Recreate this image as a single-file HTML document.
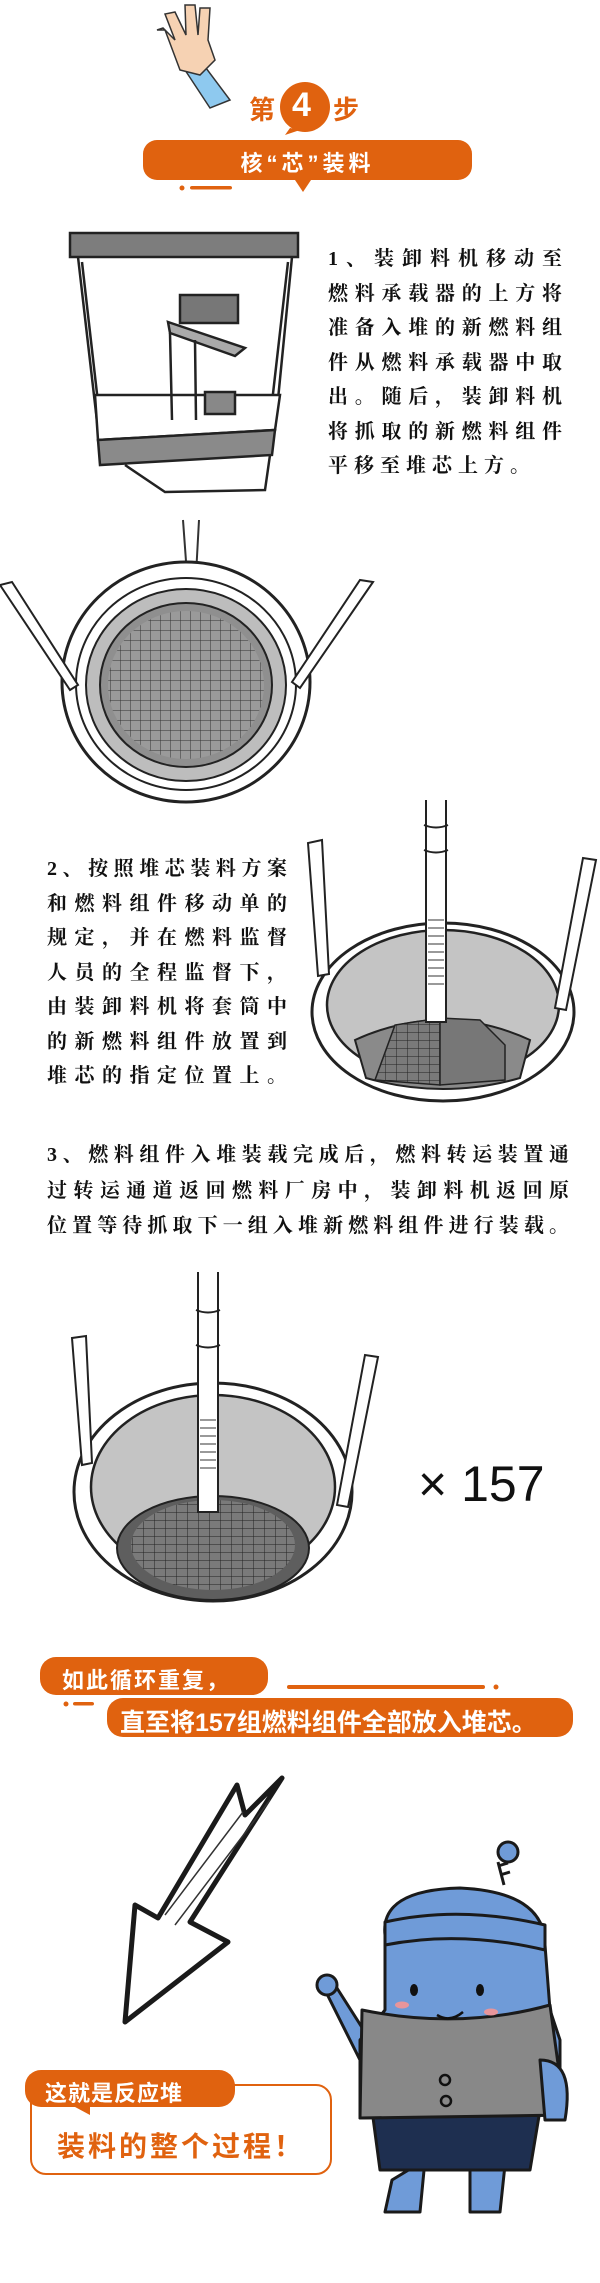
<!DOCTYPE html>
<html><head><meta charset="utf-8"><style>
html,body{margin:0;padding:0;background:#fff;}
#p{position:relative;width:600px;height:2283px;overflow:hidden;font-family:"Liberation Sans","Noto Sans CJK SC",sans-serif;}
svg{position:absolute;left:0;top:0;}
.t{position:absolute;color:#111;font-size:20px;font-weight:bold;font-family:"Liberation Serif","Noto Serif CJK SC",serif;}
.t div{text-align:justify;text-align-last:justify;white-space:nowrap;}
.w{position:absolute;color:#fff;font-weight:bold;white-space:nowrap;}
</style></head><body><div id="p">
<svg width="600" height="2283" viewBox="0 0 600 2283">
<defs>
<pattern id="g1" width="10" height="10" patternUnits="userSpaceOnUse"><rect width="10" height="10" fill="#9a9a9a"/><path d="M0 0H10M0 0V10" stroke="#333" stroke-width="1"/></pattern>
<pattern id="g2" width="11" height="8" patternUnits="userSpaceOnUse"><rect width="11" height="8" fill="#7a7a7a"/><path d="M0 0H11M0 0V8" stroke="#222" stroke-width="1"/></pattern>
<clipPath id="c1"><ellipse cx="186" cy="685" rx="78" ry="74"/></clipPath>
<clipPath id="c3"><ellipse cx="213" cy="1545" rx="82" ry="45"/></clipPath>
</defs>
<!-- hand -->
<path d="M185 70 L210 108 L230 100 L200 60 Z" fill="#8ec9ef" stroke="#333" stroke-width="1.5"/>
<path d="M165 30 L180 70 L200 75 L215 60 L208 40 L210 8 L200 8 L198 35 L195 5 L185 5 L186 35 L175 12 L165 14 L175 40 L163 28 L157 30 Z" fill="#f6d2b3" stroke="#333" stroke-width="1.5"/>
<circle cx="305" cy="107" r="25" fill="#e0620f"/>
<path d="M290 128 L285 135 L300 130Z" fill="#e0620f"/>
<rect x="143" y="140" width="329" height="40" rx="14" fill="#e0620f"/>
<path d="M295 180 L303 192 L311 180Z" fill="#e0620f"/>
<circle cx="182" cy="188" r="2.5" fill="#e0620f"/><rect x="190" y="186" width="42" height="3.5" rx="2" fill="#e0620f"/>
<!-- machine -->
<g stroke="#222" stroke-width="2.5" fill="none">
<rect x="70" y="233" width="228" height="24" fill="#7d7d7d"/>
<path d="M78 257 L98 430 M292 257 L275 430 M82 262 L100 420 M288 262 L270 420"/>
<path d="M95 395 L280 395 L275 430 L98 440 Z" fill="#fff"/>
<path d="M98 440 L275 430 L272 455 L100 465 Z" fill="#8a8a8a"/>
<path d="M125 465 L165 492 L265 490 L270 455"/>
<rect x="180" y="295" width="58" height="28" fill="#777"/>
<path d="M168 322 L245 348 L235 356 L170 333 Z" fill="#aaa"/>
<path d="M170 333 L172 420 M195 340 L196 420"/>
<rect x="205" y="392" width="30" height="22" fill="#888"/>
</g>
<!-- vessel 1 -->
<path d="M183 520 L187 575 L196 575 L199 520" fill="#fff" stroke="#333" stroke-width="2"/>
<ellipse cx="186" cy="682" rx="124" ry="120" fill="#fff" stroke="#222" stroke-width="3"/>
<ellipse cx="186" cy="684" rx="110" ry="106" fill="#fff" stroke="#222" stroke-width="2"/>
<ellipse cx="186" cy="685" rx="100" ry="96" fill="#bdbdbd" stroke="#222" stroke-width="2"/>
<ellipse cx="186" cy="685" rx="86" ry="82" fill="#8f8f8f" stroke="#222" stroke-width="2"/>
<rect x="100" y="605" width="175" height="160" fill="url(#g1)" clip-path="url(#c1)"/>
<path d="M0 585 L70 690 L78 685 L12 582Z" fill="#fff" stroke="#222" stroke-width="2"/>
<path d="M373 582 L300 688 L292 682 L360 580Z" fill="#fff" stroke="#222" stroke-width="2"/>
<!-- vessel 2 -->
<ellipse cx="443" cy="1012" rx="131" ry="89" fill="#fff" stroke="#222" stroke-width="3"/>
<ellipse cx="443" cy="1005" rx="116" ry="75" fill="#c4c4c4" stroke="#222" stroke-width="2.5"/>
<path d="M355 1040 Q443 1000 530 1040 L520 1078 Q443 1100 366 1078Z" fill="#8a8a8a" stroke="#222" stroke-width="2"/>
<path d="M375 1080 L395 1025 L440 1018 L440 1085Z" fill="url(#g2)" stroke="#222" stroke-width="1.5"/>
<path d="M440 1018 L480 1020 L505 1045 L505 1080 L440 1085Z" fill="#777" stroke="#222" stroke-width="1.5"/>
<path d="M426 800 L426 1022 L446 1022 L446 800" fill="#fff" stroke="#222" stroke-width="2"/>
<path d="M428 920 H444 M428 928 H444 M428 936 H444 M428 944 H444 M428 952 H444 M428 960 H444 M428 968 H444 M428 976 H444 M428 984 H444" stroke="#333"/>
<path d="M424 825 Q436 830 448 825 M424 850 Q436 855 448 850" stroke="#222" stroke-width="2" fill="none"/>
<path d="M308 843 L318 976 L329 974 L322 840Z" fill="#fff" stroke="#222" stroke-width="2"/>
<path d="M583 858 L555 1008 L566 1010 L596 860Z" fill="#fff" stroke="#222" stroke-width="2"/>
<!-- vessel 3 -->
<ellipse cx="213" cy="1492" rx="139" ry="109" fill="#fff" stroke="#222" stroke-width="3"/>
<ellipse cx="213" cy="1487" rx="122" ry="92" fill="#c4c4c4" stroke="#222" stroke-width="2.5"/>
<ellipse cx="213" cy="1548" rx="96" ry="52" fill="#5e5e5e" stroke="#222" stroke-width="2"/>
<rect x="125" y="1500" width="180" height="100" fill="url(#g2)" clip-path="url(#c3)"/>
<path d="M198 1272 L198 1512 L218 1512 L218 1272" fill="#fff" stroke="#222" stroke-width="2"/>
<path d="M200 1420 H216 M200 1428 H216 M200 1436 H216 M200 1444 H216 M200 1452 H216 M200 1460 H216 M200 1468 H216" stroke="#333"/>
<path d="M196 1310 Q208 1315 220 1310 M196 1345 Q208 1350 220 1345" stroke="#222" stroke-width="2" fill="none"/>
<path d="M72 1338 L82 1465 L92 1463 L86 1336Z" fill="#fff" stroke="#222" stroke-width="2"/>
<path d="M365 1355 L337 1505 L348 1507 L378 1357Z" fill="#fff" stroke="#222" stroke-width="2"/>
<!-- orange pills -->
<rect x="40" y="1657" width="228" height="38" rx="16" fill="#e0620f"/>
<rect x="287" y="1685" width="198" height="4" rx="2" fill="#e0620f"/><circle cx="496" cy="1687" r="2.5" fill="#e0620f"/>
<rect x="107" y="1698" width="466" height="39" rx="16" fill="#e0620f"/>
<circle cx="66" cy="1704" r="2.5" fill="#e0620f"/><rect x="73" y="1702" width="21" height="3.5" rx="2" fill="#e0620f"/>
<!-- arrow -->
<path d="M237 1785 L245 1815 L282 1778 L190 1922 L228 1942 L125 2022 L135 1905 L158 1918 Z" fill="none" stroke="#1a1a1a" stroke-width="5" stroke-linejoin="round"/>
<path d="M270 1800 L175 1925 M243 1812 L165 1915" stroke="#333" stroke-width="1.5"/>
<!-- bubble -->
<rect x="31" y="2085" width="300" height="89" rx="15" fill="#fff" stroke="#e0620f" stroke-width="2"/>
<rect x="25" y="2070" width="210" height="37" rx="16" fill="#e0620f"/>
<path d="M62 2100 L90 2100 L90 2115Z" fill="#e0620f"/>
<!-- robot -->
<g stroke="#1a1a1a" stroke-width="3" stroke-linejoin="round">
<path d="M335 1985 L370 2040 L360 2060 L325 1990Z" fill="#6f9bd8"/>
<circle cx="327" cy="1985" r="10" fill="#6f9bd8"/>
<path d="M392 2180 L385 2212 L420 2212 L425 2160Z M470 2165 L470 2212 L500 2212 L505 2165Z" fill="#6f9bd8"/>
<path d="M372 2110 L380 2170 L530 2170 L540 2110Z" fill="#1e2f50"/>
<path d="M385 1935 Q380 1890 460 1888 Q545 1892 545 1945 L550 2010 L560 2040 L560 2115 L360 2118 L360 2040 L385 2010 Z" fill="#6f9bd8"/>
<path d="M362 2010 Q460 2030 550 2005 L565 2115 L360 2118 Z" fill="#888"/>
<path d="M385 1945 Q460 1930 545 1950 L545 1925 Q460 1905 385 1922Z" fill="#6f9bd8"/>
<path d="M540 2060 Q575 2060 565 2120 L545 2120Z" fill="#6f9bd8"/>
</g>
<path d="M504 1885 L498 1862 M500 1875 l10 -3 M498 1866 l10 -3" stroke="#1a1a1a" stroke-width="3"/>
<circle cx="508" cy="1852" r="10" fill="#6f9bd8" stroke="#1a1a1a" stroke-width="3"/>
<ellipse cx="414" cy="1990" rx="4" ry="6" fill="#111"/><ellipse cx="480" cy="1990" rx="4" ry="6" fill="#111"/>
<path d="M437 2015 Q450 2023 463 2012" stroke="#111" stroke-width="2.5" fill="none"/>
<ellipse cx="402" cy="2005" rx="7" ry="3.5" fill="#e7959b"/><ellipse cx="491" cy="2012" rx="7" ry="3.5" fill="#e7959b"/>
<circle cx="445" cy="2080" r="5" fill="none" stroke="#111" stroke-width="2.5"/><circle cx="446" cy="2101" r="5" fill="none" stroke="#111" stroke-width="2.5"/>
</svg>
<div class="w" style="left:249px;top:90px;font-size:26px;color:#e0620f;">第</div>
<div class="w" style="left:292px;top:86px;font-size:34px;">4</div>
<div class="w" style="left:333px;top:90px;font-size:26px;color:#e0620f;">步</div>
<div class="w" style="left:143px;top:146px;width:329px;text-align:center;font-size:22px;letter-spacing:4px;">核“芯”装料</div>
<div class="t" style="left:328px;top:242px;width:234px;line-height:34.5px;">
<div>1、装卸料机移动至</div><div>燃料承载器的上方将</div><div>准备入堆的新燃料组</div><div>件从燃料承载器中取</div><div>出。随后，装卸料机</div><div>将抓取的新燃料组件</div><div style="text-align-last:left;letter-spacing:6px;">平移至堆芯上方。</div>
</div>
<div class="t" style="left:47px;top:852px;width:240px;line-height:34.5px;">
<div>2、按照堆芯装料方案</div><div>和燃料组件移动单的</div><div>规定，并在燃料监督</div><div>人员的全程监督下，</div><div>由装卸料机将套筒中</div><div>的新燃料组件放置到</div><div>堆芯的指定位置上。</div>
</div>
<div class="t" style="left:47px;top:1138px;width:522px;line-height:35.5px;">
<div>3、燃料组件入堆装载完成后，燃料转运装置通</div><div>过转运通道返回燃料厂房中，装卸料机返回原</div><div>位置等待抓取下一组入堆新燃料组件进行装载。</div>
</div>
<div style="position:absolute;left:418px;top:1455px;font-size:50px;color:#111;font-family:'Liberation Sans',sans-serif;">× 157</div>
<div class="w" style="left:62px;top:1663px;font-size:22px;letter-spacing:2px;">如此循环重复，</div>
<div class="w" style="left:120px;top:1703px;font-size:25px;">直至将157组燃料组件全部放入堆芯。</div>
<div class="w" style="left:45px;top:2076px;font-size:22px;letter-spacing:1px;">这就是反应堆</div>
<div class="w" style="left:57px;top:2125px;font-size:28px;color:#e0620f;letter-spacing:3px;">装料的整个过程！</div>
</div></body></html>
